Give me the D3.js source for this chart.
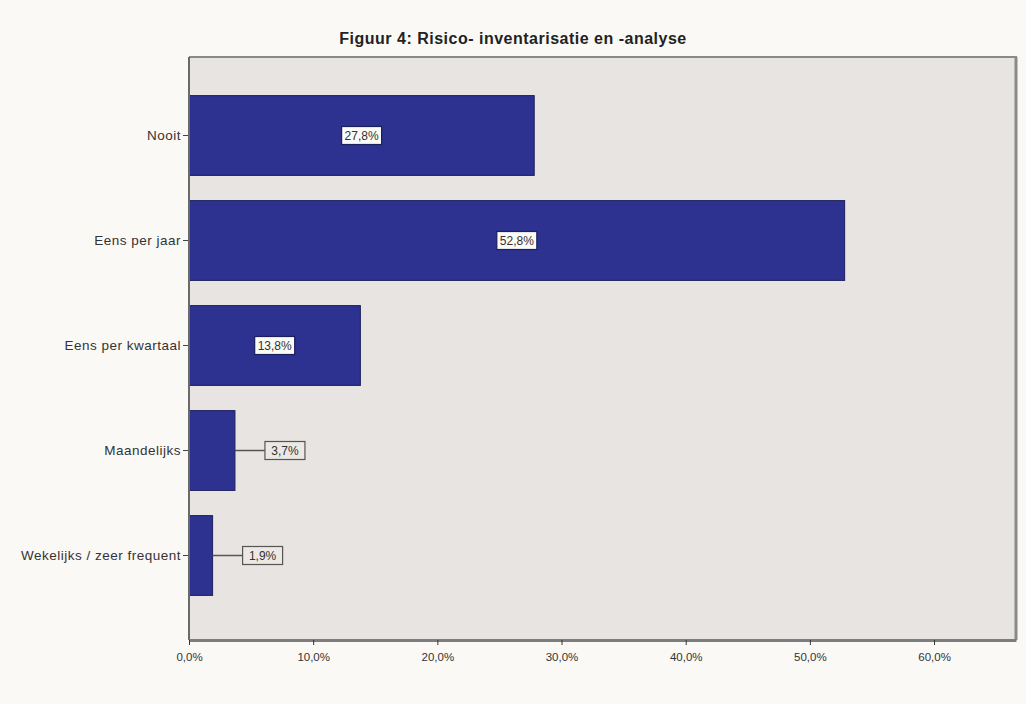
<!DOCTYPE html>
<html>
<head>
<meta charset="utf-8">
<script src="https://cdn.jsdelivr.net/npm/d3@7"></script>
<style>
  body { margin: 0; background: #fbf9f6; }
  svg { display: block; }
</style>
</head>
<body>
<div id="chart"></div>
<script>
// categories and percentages per category
let categories = ["Nooit", "Eens per jaar", "Eens per kwartaal", "Maandelijks", "Wekelijks / zeer frequent"];
let percentages = [27.8, 52.8, 13.8, 3.7, 1.9];
let xTicks = [0, 10, 20, 30, 40, 50, 60];
let chartTitle = "Figuur 4: Risico- inventarisatie en -analyse";

let width = 1026, height = 704;
let plotLeft = 189, plotRight = 1016, plotTop = 57, plotBottom = 640;

let data = categories.map(function(c, i){ return {cat: c, val: percentages[i]}; });

let fmt = function(v){ return v.toFixed(1).replace(".", ",") + "%"; };

let svg = d3.select("#chart").append("svg")
            .attr("width", width)
            .attr("height", height)
            .style("font-family", "Liberation Sans, Arial, sans-serif");

svg.append("rect")
  .attr("width", width).attr("height", height)
  .attr("fill", "#fbf9f6");

// plot background
svg.append("rect")
  .attr("x", plotLeft).attr("y", plotTop)
  .attr("width", plotRight - plotLeft).attr("height", plotBottom - plotTop)
  .attr("fill", "#e7e4e1");

// title
svg.append("text")
  .attr("x", 513).attr("y", 44)
  .attr("text-anchor", "middle")
  .style("font-size", "16px")
  .style("font-weight", "bold")
  .style("letter-spacing", "0.5px")
  .attr("fill", "#222")
  .text(chartTitle);

let x = d3.scaleLinear()
  .domain([0, 66.6])
  .range([plotLeft, plotRight]);

let y = d3.scaleBand()
  .domain(categories)
  .range([83, 608])
  .paddingInner(0.24)
  .paddingOuter(0.12);

// frame: top and right edges
svg.append("line")
  .attr("x1", plotLeft).attr("x2", plotRight + 1)
  .attr("y1", plotTop).attr("y2", plotTop)
  .attr("stroke", "#8a8a8a").attr("stroke-width", 2);
svg.append("line")
  .attr("x1", plotRight).attr("x2", plotRight)
  .attr("y1", plotTop).attr("y2", plotBottom)
  .attr("stroke", "#8a8a8a").attr("stroke-width", 3);

// bars
svg.append("g")
  .selectAll("rect")
  .data(data)
  .enter().append("rect")
    .attr("x", x(0))
    .attr("y", function(d){ return y(d.cat); })
    .attr("width", function(d){ return x(d.val) - x(0); })
    .attr("height", y.bandwidth())
    .attr("fill", "#2d3190")
    .attr("stroke", "#1c1f5e")
    .attr("stroke-width", 1);

// y axis
let yAxis = svg.append("g")
  .attr("transform", "translate(" + plotLeft + ",0)")
  .call(d3.axisLeft(y).tickSize(6).tickSizeOuter(0).tickPadding(2));
yAxis.select(".domain").remove();
yAxis.append("line")
  .attr("y1", plotTop).attr("y2", plotBottom)
  .attr("stroke", "#6a6a6a").attr("stroke-width", 2);
yAxis.selectAll(".tick line").attr("stroke", "#444");
yAxis.selectAll(".tick text")
  .style("font-size", "13.5px")
  .style("letter-spacing", "0.5px")
  .attr("fill", "#333");

// x axis
let xAxis = svg.append("g")
  .attr("transform", "translate(0," + plotBottom + ")")
  .call(d3.axisBottom(x).tickValues(xTicks).tickSize(5).tickSizeOuter(0)
        .tickFormat(function(d){ return fmt(d); }));
xAxis.select(".domain").attr("stroke", "#7d7d7d").attr("stroke-width", 3);
xAxis.selectAll(".tick line").attr("stroke", "#333");
xAxis.selectAll(".tick text")
  .attr("dy", "1.1em")
  .style("font-size", "11.5px")
  .attr("fill", "#333");

// value labels: inside wide bars, outside with leader line for narrow ones
let labels = svg.append("g")
  .selectAll("g")
  .data(data)
  .enter().append("g")
  .attr("transform", function(d){
    let cx = d.val > 8 ? (x(0) + x(d.val)) / 2 : x(d.val) + 30 + 20;
    return "translate(" + cx + "," + (y(d.cat) + y.bandwidth() / 2) + ")";
  });

labels.filter(function(d){ return d.val <= 8; })
  .append("line")
  .attr("x1", -50)
  .attr("x2", -20)
  .attr("y1", 0).attr("y2", 0)
  .attr("stroke", "#555").attr("stroke-width", 1.5);

labels.append("rect")
  .attr("x", -20).attr("y", -9)
  .attr("width", 40).attr("height", 18)
  .attr("fill", function(d){ return d.val > 8 ? "#fbfbf7" : "#ece9e4"; })
  .attr("stroke", function(d){ return d.val > 8 ? "#1c1f5e" : "#555"; })
  .attr("stroke-width", 1.2);

labels.append("text")
  .attr("text-anchor", "middle")
  .attr("dy", "0.36em")
  .style("font-size", "12px")
  .attr("fill", "#333")
  .text(function(d){ return fmt(d.val); });
</script>
</body>
</html>
